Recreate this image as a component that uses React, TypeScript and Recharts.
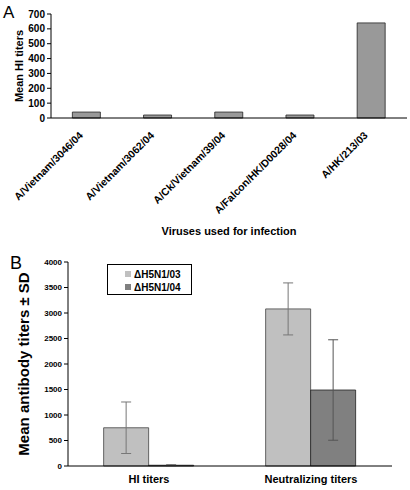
import React from 'react';
import { BarChart, Bar, XAxis, YAxis, ErrorBar, Legend } from 'recharts';

// Panel A: HI titers per virus
const viruses = ['A/Vietnam/3046/04', 'A/Vietnam/3062/04', 'A/Ck/Vietnam/39/04', 'A/Falcon/HK/D0028/04', 'A/HK/213/03'];
const hiTiters = [40, 20, 40, 20, 640];
const ticksA = [0, 100, 200, 300, 400, 500, 600, 700];

// Panel B: antibody titers by vaccine
const assays = ['HI titers', 'Neutralizing titers'];
const mean0103 = [750, 3080];
const sd0103 = [505, 510];
const mean0104 = [15, 1490];
const sd0104 = [8, 985];
const ticksB = [0, 500, 1000, 1500, 2000, 2500, 3000, 3500, 4000];

const dataA = viruses.map((v, i) => ({ virus: v, titer: hiTiters[i] }));
const dataB = assays.map((a, i) => ({
  assay: a,
  h03: mean0103[i],
  h03sd: sd0103[i],
  h04: mean0104[i],
  h04sd: sd0104[i],
}));

const FONT = '"Liberation Sans", Arial, sans-serif';

const AngledTick = (props: any) => {
  const { x, y, payload } = props;
  return (
    <g transform={`translate(${x - 3},${y + 9})`}>
      <text
        x={0}
        y={0}
        textAnchor="end"
        transform="rotate(-45)"
        fontFamily={FONT}
        fontWeight="bold"
        fontSize={10.5}
        fill="#000"
      >
        {payload.value}
      </text>
    </g>
  );
};

const LegendBox = (props: any) => {
  const { payload } = props;
  return (
    <div
      style={{
        border: '1px solid #000',
        width: 85,
        height: 31,
        boxSizing: 'border-box',
        padding: '3px 0 0 17px',
        fontFamily: FONT,
        fontWeight: 'bold',
        fontSize: 10,
        lineHeight: '13px',
        color: '#000',
        background: '#fff',
      }}
    >
      {(payload || []).map((p: any) => (
        <div key={p.value}>
          <span
            style={{
              display: 'inline-block',
              width: 6,
              height: 6,
              background: p.color,
              marginRight: 3,
              verticalAlign: 'middle',
              position: 'relative',
              top: -1,
            }}
          />
          {p.value === 'h03' ? '\u0394H5N1/03' : '\u0394H5N1/04'}
        </div>
      ))}
    </div>
  );
};

const letterStyle: React.CSSProperties = {
  position: 'absolute',
  fontFamily: FONT,
  fontSize: 17,
  lineHeight: 1,
  color: '#000',
};

export default function App() {
  return (
    <div style={{ position: 'absolute', left: 0, top: 0, width: 410, height: 490, background: '#fff' }}>
      <div style={{ ...letterStyle, left: 3, top: 4 }}>A</div>
      <div style={{ ...letterStyle, left: 10, top: 254, fontSize: 18 }}>B</div>

      <BarChart
        width={410}
        height={245}
        data={dataA}
        margin={{ top: 14, right: 3, bottom: 0, left: 0 }}
        barCategoryGap="30%"
      >
        <XAxis
          xAxisId="b"
          dataKey="virus"
          axisLine={false}
          tickLine={false}
          interval={0}
          height={126}
          tick={<AngledTick />}
          label={{
            value: 'Viruses used for infection',
            position: 'insideBottom',
            offset: 10,
            fontFamily: FONT,
            fontWeight: 'bold',
            fontSize: 11,
            fill: '#000',
          }}
        />
        <XAxis
          xAxisId="a"
          type="number"
          domain={[0, viruses.length]}
          allowDataOverflow
          ticks={viruses.map((_, i) => i).concat(viruses.length)}
          interval={0}
          tick={false}
          height={1}
          tickSize={4}
          stroke="#000"
        />
        <YAxis
          width={51}
          domain={[0, 700]}
          ticks={ticksA}
          interval={0}
          tickSize={4}
          stroke="#000"
          tick={{ fontFamily: FONT, fontWeight: 'bold', fontSize: 10, fill: '#000' }}
          label={{
            value: 'Mean HI titers',
            angle: -90,
            position: 'center',
            dx: -6,
            fontFamily: FONT,
            fontWeight: 'bold',
            fontSize: 11,
            fill: '#000',
          }}
        />
        <Bar xAxisId="b" dataKey="titer" fill="#999999" stroke="#222" strokeWidth={0.8} isAnimationActive={false} />
      </BarChart>

      <BarChart
        width={410}
        height={245}
        data={dataB}
        margin={{ top: 17, right: 18, bottom: 0, left: 0 }}
        barCategoryGap="22%"
        barGap={0}
      >
        <XAxis
          xAxisId="b"
          dataKey="assay"
          axisLine={false}
          tickLine={false}
          interval={0}
          height={23}
          tick={{ fontFamily: FONT, fontWeight: 'bold', fontSize: 11, fill: '#000' }}
        />
        <XAxis
          xAxisId="a"
          type="number"
          domain={[0, assays.length]}
          allowDataOverflow
          ticks={assays.map((_, i) => i).concat(assays.length)}
          interval={0}
          tick={false}
          height={1}
          tickSize={4}
          stroke="#000"
        />
        <YAxis
          width={68}
          domain={[0, 4000]}
          ticks={ticksB}
          interval={0}
          tickSize={4}
          stroke="#000"
          tick={{ fontFamily: FONT, fontWeight: 'bold', fontSize: 8, fill: '#000' }}
          label={{
            value: 'Mean antibody titers \u00b1 SD',
            angle: -90,
            position: 'center',
            dx: -10,
            fontFamily: FONT,
            fontWeight: 'bold',
            fontSize: 15,
            fill: '#000',
          }}
        />
        <Legend
          layout="vertical"
          align="center"
          verticalAlign="middle"
          wrapperStyle={{ left: 107, top: 19, width: 85 }}
          content={<LegendBox />}
        />
        <Bar xAxisId="b" dataKey="h03" fill="#c0c0c0" stroke="#444" strokeWidth={0.8} isAnimationActive={false}>
          <ErrorBar dataKey="h03sd" width={5} stroke="#777" strokeWidth={1} isAnimationActive={false} />
        </Bar>
        <Bar xAxisId="b" dataKey="h04" fill="#808080" stroke="#222" strokeWidth={0.8} isAnimationActive={false}>
          <ErrorBar dataKey="h04sd" width={5} stroke="#555" strokeWidth={1} isAnimationActive={false} />
        </Bar>
      </BarChart>
    </div>
  );
}
